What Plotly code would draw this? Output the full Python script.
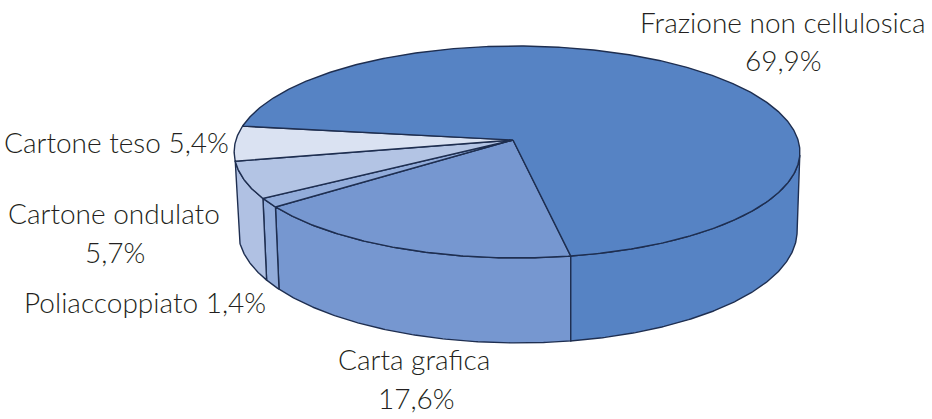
import numpy as np
import plotly.graph_objects as go

# ---- data ----
labels = ["Carta grafica", "Poliaccoppiato", "Cartone ondulato", "Cartone teso", "Frazione non cellulosica"]
values = [17.6, 1.4, 5.7, 5.4, 69.9]
top_colors = ["#7697D0", "#92ACDA", "#B3C4E4", "#DAE2F2", "#5683C4"]
side_colors = ["#7697D0", "#92ACDA", "#B0C1E3", "#DAE2F2", "#5683C4"]
label_text = ["Frazione non cellulosica", "69,9%", "Cartone teso 5,4%", "Cartone ondulato", "5,7%",
              "Poliaccoppiato 1,4%", "Carta grafica", "17,6%"]
label_x = [783, 783, 116, 114, 115, 145, 414, 416]
label_y = [22, 60, 142, 213, 252, 302, 359, 398]

# ---- view geometry ----
W, H = 932, 419
X0, Y0 = 513, 140       # projected centre of the disc
A, B, K, S = 281, 104.6, 0.113, 0.0141   # perspective projection
START = -10.5           # degrees, clockwise from front
D0, D1 = 78, 7          # thickness: at the sides, extra at the front
VX, SHR = 570, 0.988    # convergence of the vertical edges
LINE = "#1E2E50"
LW = 1.4
RIGHT = -82.0           # where the outline leaves the top rim on the right


def rim(phi):
    r = np.radians(phi)
    u, v = -np.sin(r), np.cos(r)
    w = 1 - K * v - S * u
    return X0 + A * u / w, Y0 + B * v / w, v


def low(phi):
    x, y, v = rim(phi)
    return VX + (x - VX) * SHR, y + D0 + D1 * v


def arc(a, b):
    return np.linspace(a, b, max(2, int(abs(b - a) * 2) + 1))


edges = START + np.concatenate([[0], np.cumsum(values)]) * 3.6
fig = go.Figure()


def poly(x, y, fill=None):
    x, y = list(x), list(y)
    x.append(x[0]); y.append(y[0])
    fig.add_trace(go.Scatter(
        x=x, y=y, mode="lines",
        line=dict(color=LINE, width=LW),
        fill="toself" if fill else None, fillcolor=fill,
        hoverinfo="skip", showlegend=False))


# visible sides
for i in range(len(values)):
    a, b = edges[i], edges[i + 1]
    if i == 4:           # frazione: wraps round to the start edge
        a, b = RIGHT, edges[0]
    if i == 3:
        continue
    t = arc(a, b)
    xt, yt, _ = rim(t)
    xb, yb = low(t)
    poly(np.concatenate([xt, xb[::-1]]), np.concatenate([yt, yb[::-1]]), side_colors[i])

# top slices
for i in range(len(values)):
    t = arc(edges[i], edges[i + 1])
    xt, yt, _ = rim(t)
    poly(np.concatenate([[X0], xt]), np.concatenate([[Y0], yt]), top_colors[i])

fig.update_layout(
    width=W, height=H, autosize=False,
    margin=dict(l=0, r=0, t=0, b=0),
    paper_bgcolor="white", plot_bgcolor="white", showlegend=False,
    xaxis=dict(range=[0, W], visible=False, fixedrange=True),
    yaxis=dict(range=[H, 0], visible=False, fixedrange=True),
    annotations=[
        dict(x=x, y=y, text=t, showarrow=False, xref="x", yref="y",
             xanchor="center", yanchor="middle", align="center",
             font=dict(family="Lato", size=28, weight=300, color="#231F20"))
        for x, y, t in zip(label_x, label_y, label_text)
    ],
)
fig.write_html("out.html", config=dict(displayModeBar=False),
               post_script="document.body.style.margin='0';")
